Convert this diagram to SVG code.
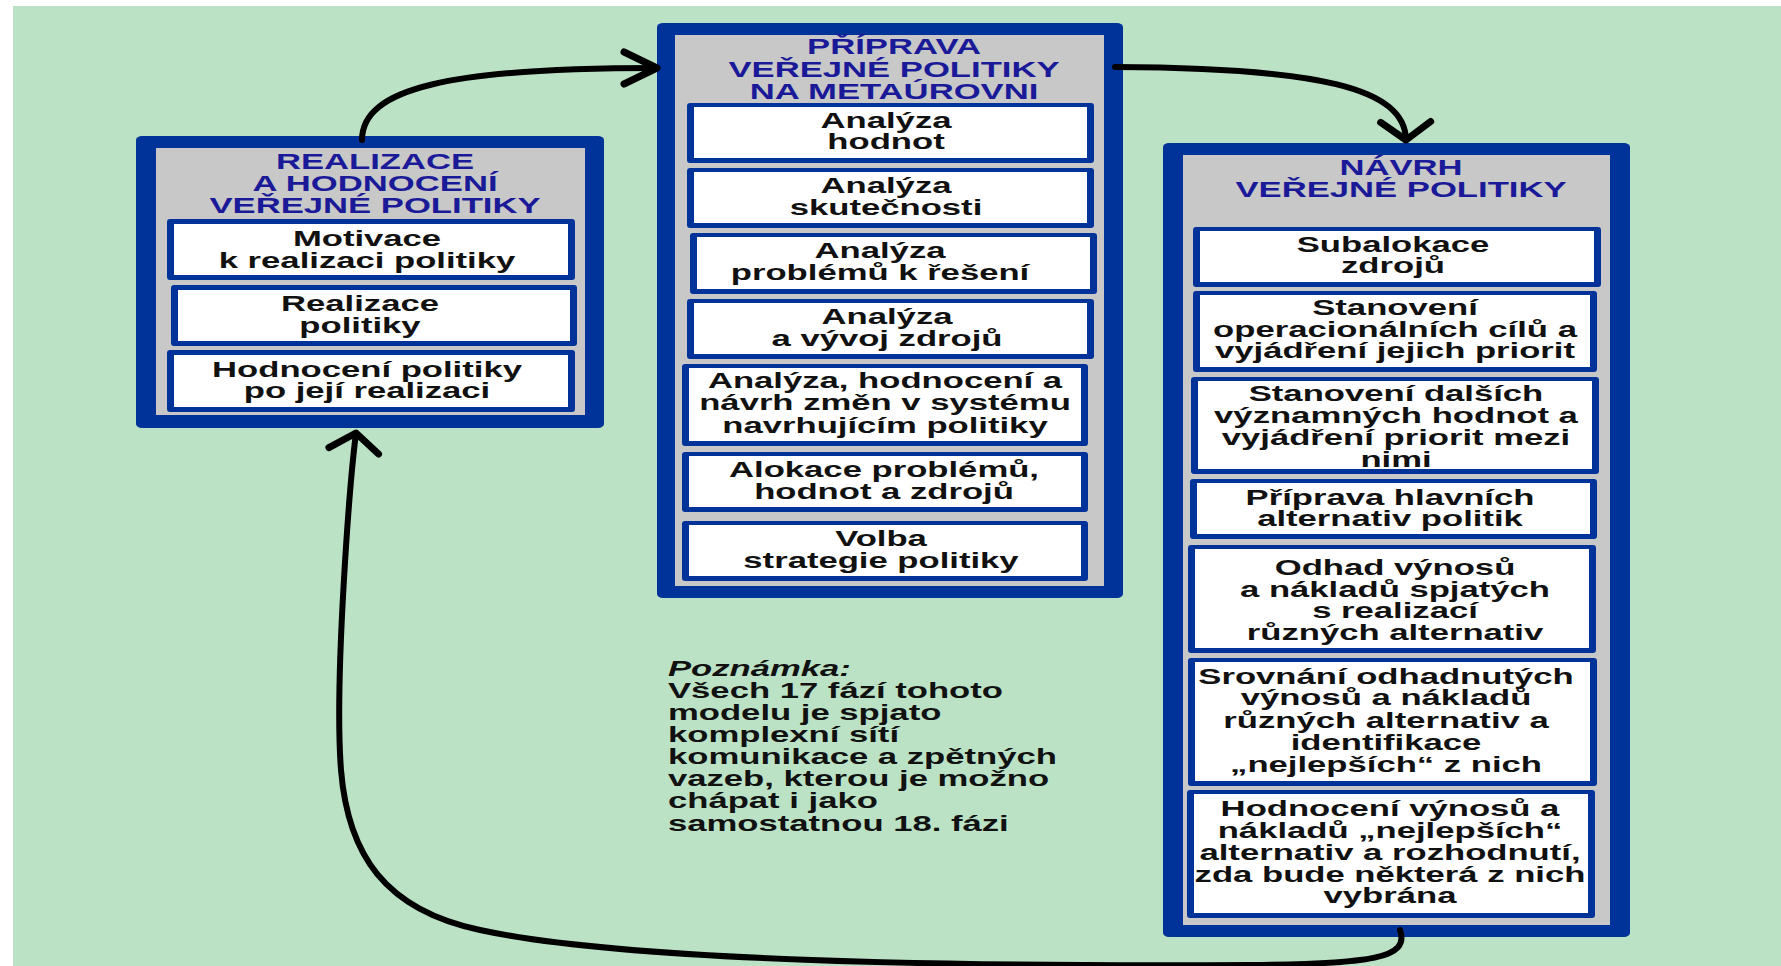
<svg xmlns="http://www.w3.org/2000/svg" width="1781" height="966" viewBox="0 0 1781 966">
<style>
.bg{fill:#BCE2C6}
.ob{fill:#003399}
.gr{fill:#C8C8C8}
.sb{fill:#003399}
.wh{fill:#FFFFFF}
.ti{font-family:"Liberation Sans",Arial,sans-serif;font-weight:bold;font-size:22px;fill:#1A1A99;text-anchor:middle}
.tx{font-family:"Liberation Sans",Arial,sans-serif;font-weight:bold;font-size:22px;fill:#111111;text-anchor:middle}
.nt{font-family:"Liberation Sans",Arial,sans-serif;font-weight:bold;font-size:22px;fill:#111111;text-anchor:start}
.it{font-style:italic}
.cn{fill:none;stroke:#000000;stroke-width:6;stroke-linecap:round;stroke-linejoin:round}
.hd{fill:none;stroke:#000000;stroke-width:7;stroke-linecap:round;stroke-linejoin:round}
</style>
<defs>
<marker id="headH" markerUnits="userSpaceOnUse" viewBox="-45 -30 55 60" markerWidth="55" markerHeight="60" refX="0" refY="0" orient="auto" overflow="visible">
<path class="hd" d="M-33,-16 L0,0 L-33,16"/>
</marker>
<marker id="headV" markerUnits="userSpaceOnUse" viewBox="-30 -35 40 70" markerWidth="40" markerHeight="70" refX="0" refY="0" orient="auto" overflow="visible">
<path class="hd" d="M-18,-25 L0,0 L-18,25"/>
</marker>
</defs>
<rect x="0" y="0" width="1781" height="966" fill="#FFFFFF"/>
<rect class="bg" x="13" y="6" width="1768" height="960"/>

<!-- LEFT: Realizace a hodnocení -->
<g id="realizace">
<rect class="ob" x="136" y="136" width="468" height="292" rx="6" ry="4"/>
<rect class="gr" x="156" y="148" width="429" height="267"/>
<g class="ti" transform="translate(375 0) scale(1.575 1)">
<text y="169">REALIZACE</text>
<text y="191">A HODNOCENÍ</text>
<text y="213">VEŘEJNÉ POLITIKY</text>
</g>
<g id="motivace">
<rect class="sb" x="167" y="219" width="408" height="61" rx="3"/>
<rect class="wh" x="174" y="224" width="394" height="51"/>
<g class="tx" transform="translate(367 0) scale(1.575 1)"><text y="246">Motivace</text><text y="268">k realizaci politiky</text></g>
</g>
<g id="realizace-politiky">
<rect class="sb" x="171" y="285" width="406" height="61" rx="3"/>
<rect class="wh" x="178" y="290" width="392" height="51"/>
<g class="tx" transform="translate(360 0) scale(1.575 1)"><text y="311">Realizace</text><text y="333">politiky</text></g>
</g>
<g id="hodnoceni-politiky">
<rect class="sb" x="167" y="350" width="408" height="62" rx="3"/>
<rect class="wh" x="174" y="355" width="394" height="52"/>
<g class="tx" transform="translate(367 0) scale(1.575 1)"><text y="377">Hodnocení politiky</text><text y="398">po její realizaci</text></g>
</g>
</g>

<!-- MIDDLE: Příprava -->
<g id="priprava">
<rect class="ob" x="657" y="23" width="466" height="575" rx="6" ry="4"/>
<rect class="gr" x="675" y="35" width="429" height="551"/>
<g class="ti" transform="translate(894 0) scale(1.575 1)">
<text y="54">PŘÍPRAVA</text>
<text y="77">VEŘEJNÉ POLITIKY</text>
<text y="99">NA METAÚROVNI</text>
</g>
<g id="analyza-hodnot">
<rect class="sb" x="687" y="103" width="407" height="60" rx="3"/>
<rect class="wh" x="694" y="107" width="393" height="51"/>
<g class="tx" transform="translate(886 0) scale(1.575 1)"><text y="128">Analýza</text><text y="149">hodnot</text></g>
</g>
<g id="analyza-skutecnosti">
<rect class="sb" x="687" y="168" width="407" height="60" rx="3"/>
<rect class="wh" x="694" y="172" width="393" height="51"/>
<g class="tx" transform="translate(886 0) scale(1.575 1)"><text y="193">Analýza</text><text y="215">skutečnosti</text></g>
</g>
<g id="analyza-problemu">
<rect class="sb" x="690" y="233" width="407" height="61" rx="3"/>
<rect class="wh" x="697" y="237" width="393" height="52"/>
<g class="tx" transform="translate(880 0) scale(1.575 1)"><text y="258">Analýza</text><text y="280">problémů k řešení</text></g>
</g>
<g id="analyza-zdroju">
<rect class="sb" x="687" y="299" width="407" height="60" rx="3"/>
<rect class="wh" x="694" y="303" width="393" height="51"/>
<g class="tx" transform="translate(887 0) scale(1.575 1)"><text y="324">Analýza</text><text y="346">a vývoj zdrojů</text></g>
</g>
<g id="analyza-systemu">
<rect class="sb" x="682" y="364" width="406" height="82" rx="3"/>
<rect class="wh" x="689" y="368" width="392" height="73"/>
<g class="tx" transform="translate(885 0) scale(1.575 1)"><text y="388">Analýza, hodnocení a</text><text y="410">návrh změn v systému</text><text y="433">navrhujícím politiky</text></g>
</g>
<g id="alokace">
<rect class="sb" x="682" y="452" width="406" height="60" rx="3"/>
<rect class="wh" x="689" y="456" width="392" height="51"/>
<g class="tx" transform="translate(884 0) scale(1.575 1)"><text y="477">Alokace problémů,</text><text y="499">hodnot a zdrojů</text></g>
</g>
<g id="volba">
<rect class="sb" x="682" y="521" width="406" height="60" rx="3"/>
<rect class="wh" x="689" y="525" width="392" height="51"/>
<g class="tx" transform="translate(881 0) scale(1.575 1)"><text y="546">Volba</text><text y="568">strategie politiky</text></g>
</g>
</g>

<!-- RIGHT: Návrh -->
<g id="navrh">
<rect class="ob" x="1163" y="143" width="467" height="794" rx="6" ry="4"/>
<rect class="gr" x="1183" y="155" width="427" height="770"/>
<g class="ti" transform="translate(1401 0) scale(1.575 1)">
<text y="175">NÁVRH</text>
<text y="197">VEŘEJNÉ POLITIKY</text>
</g>
<g id="subalokace">
<rect class="sb" x="1193" y="227" width="408" height="60" rx="3"/>
<rect class="wh" x="1200" y="231" width="394" height="51"/>
<g class="tx" transform="translate(1393 0) scale(1.575 1)"><text y="252">Subalokace</text><text y="273">zdrojů</text></g>
</g>
<g id="operacionalni-cile">
<rect class="sb" x="1193" y="291" width="404" height="81" rx="3"/>
<rect class="wh" x="1200" y="295" width="390" height="72"/>
<g class="tx" transform="translate(1395 0) scale(1.575 1)"><text y="315">Stanovení</text><text y="337">operacionálních cílů a</text><text y="358">vyjádření jejich priorit</text></g>
</g>
<g id="dalsi-hodnoty">
<rect class="sb" x="1191" y="377" width="408" height="97" rx="3"/>
<rect class="wh" x="1198" y="381" width="394" height="88"/>
<g class="tx" transform="translate(1396 0) scale(1.575 1)"><text y="401">Stanovení dalších</text><text y="423">významných hodnot a</text><text y="445">vyjádření priorit mezi</text><text y="467">nimi</text></g>
</g>
<g id="alternativy">
<rect class="sb" x="1190" y="479" width="407" height="60" rx="3"/>
<rect class="wh" x="1197" y="483" width="393" height="51"/>
<g class="tx" transform="translate(1390 0) scale(1.575 1)"><text y="505">Příprava hlavních</text><text y="526">alternativ politik</text></g>
</g>
<g id="odhad">
<rect class="sb" x="1188" y="545" width="408" height="108" rx="3"/>
<rect class="wh" x="1195" y="549" width="394" height="99"/>
<g class="tx" transform="translate(1395 0) scale(1.575 1)"><text y="575">Odhad výnosů</text><text y="597">a nákladů spjatých</text><text y="618">s realizací</text><text y="640">různých alternativ</text></g>
</g>
<g id="srovnani">
<rect class="sb" x="1188" y="658" width="409" height="128" rx="3"/>
<rect class="wh" x="1195" y="662" width="395" height="119"/>
<g class="tx" transform="translate(1386 0) scale(1.575 1)"><text y="684">Srovnání odhadnutých</text><text y="705">výnosů a nákladů</text><text y="728">různých alternativ a</text><text y="750">identifikace</text><text y="772">„nejlepších“ z nich</text></g>
</g>
<g id="hodnoceni-vynosu">
<rect class="sb" x="1187" y="790" width="408" height="128" rx="3"/>
<rect class="wh" x="1194" y="794" width="394" height="119"/>
<g class="tx" transform="translate(1390 0) scale(1.575 1)"><text y="816">Hodnocení výnosů a</text><text y="838">nákladů „nejlepších“</text><text y="860">alternativ a rozhodnutí,</text><text y="882">zda bude některá z nich</text><text y="903">vybrána</text></g>
</g>
</g>

<!-- Note -->
<g id="poznamka" class="nt" transform="translate(668 0) scale(1.575 1)">
<text y="676" class="it">Poznámka:</text>
<text y="698">Všech 17 fází tohoto</text>
<text y="720">modelu je spjato</text>
<text y="742">komplexní sítí</text>
<text y="764">komunikace a zpětných</text>
<text y="786">vazeb, kterou je možno</text>
<text y="808">chápat i jako</text>
<text y="831">samostatnou 18. fázi</text>
</g>

<!-- Connectors -->
<g id="connectors">
<path class="cn" d="M362 140 C362 88 450 68 657 68" marker-end="url(#headH)"/>
<path class="cn" d="M1115 67 C1320 68 1405 88 1406 140" marker-end="url(#headV)"/>
<path class="cn" d="M1400 930 C1410 958 1372 964 1250 965 C900 967 610 958 480 930 C385 910 348 855 341 770 C334 680 350 480 356 433" marker-end="url(#headV)"/>
</g>
</svg>
